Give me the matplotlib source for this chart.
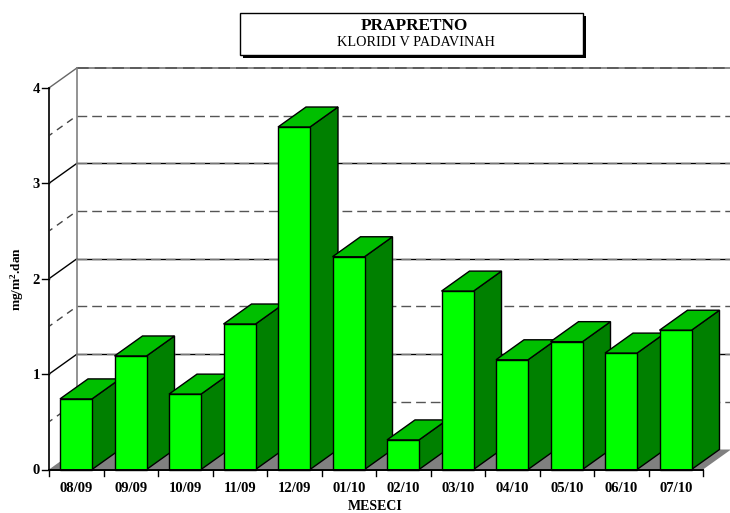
import matplotlib
matplotlib.use('Agg')
import matplotlib.pyplot as plt
from matplotlib.patches import Polygon, Rectangle

plt.rcParams['font.family'] = 'Liberation Serif'
plt.rcParams['mathtext.fontset'] = 'custom'
plt.rcParams['mathtext.bf'] = 'Liberation Serif:bold'

# podaci
meseci = ['08/09', '09/09', '10/09', '11/09', '12/09', '01/10',
          '02/10', '03/10', '04/10', '05/10', '06/10', '07/10']
kloridi = [0.74, 1.19, 0.79, 1.525, 3.59, 2.23, 0.31, 1.87, 1.15, 1.34, 1.22, 1.46]
y_ticks = [0, 1, 2, 3, 4]
y_grid = [0.5, 1, 1.5, 2, 2.5, 3, 3.5, 4]

W, H = 730, 513
x0_px, x_step = 49, 54.5     # front axis start, pixels per category
y0_px, y_step = 469.5, 95.4  # baseline, pixels per unit

fig = plt.figure(figsize=(W / 100, H / 100), dpi=100)
ax = fig.add_axes([0, 0, 1, 1])
ax.set_xlim(-x0_px / x_step, (W - x0_px) / x_step)
ax.set_ylim((y0_px - H) / y_step, y0_px / y_step)
ax.axis('off')

# 3D depth expressed in data units
dx = 28 / x_step
dy = 20 / y_step
n = len(meseci)
bar_w = 32 / x_step
top = max(y_ticks)
x_end = (W - x0_px) / x_step
crtkano = (0, (7, 3.6))

# floor
ax.add_patch(Polygon([(0, 0), (dx, dy), (n + dx, dy), (n, 0)],
                     fc='#808080', ec='none', zorder=1))

# walls and grid
for v in y_grid:
    major = v == int(v) and v != top
    if major:
        ax.plot([0, dx], [v, v + dy], color='black', lw=1, zorder=2)
        ax.plot([dx, x_end], [v + dy, v + dy], color='black', lw=1, zorder=2)
        ax.plot([dx, x_end], [v + dy, v + dy], color='#777777', lw=1, ls=crtkano, zorder=2)
    elif v == top:
        ax.plot([0, dx], [v, v + dy], color='#666666', lw=1, zorder=2)
        ax.plot([dx, x_end], [v + dy, v + dy], color='#777777', lw=1.2, zorder=2)
        ax.plot([dx, x_end], [v + dy, v + dy], color='#555555', lw=1.2, ls=crtkano, zorder=2)
    else:
        ax.plot([0, dx], [v, v + dy], color='#444444', lw=1, ls=(2, (5, 4)), zorder=2)
        ax.plot([dx, x_end], [v + dy, v + dy], color='#555555', lw=1, ls=crtkano, zorder=2)
ax.plot([dx, dx], [dy, top + dy], color='#808080', lw=1.2, zorder=2)

# bars
for i, v in enumerate(kloridi):
    left = i + 11 / x_step
    right = left + bar_w
    z = 3 + i
    ax.add_patch(Polygon([(right, 0), (right + dx, dy), (right + dx, v + dy), (right, v)],
                         fc='#008000', ec='black', lw=1, zorder=z))
    ax.add_patch(Polygon([(left, v), (left + dx, v + dy), (right + dx, v + dy), (right, v)],
                         fc='#00BF00', ec='black', lw=1, zorder=z))
    ax.add_patch(Rectangle((left, 0), bar_w, v, fc='#00FF00', ec='black', lw=1, zorder=z))

# axes
ax.plot([0, 0], [0, top], color='#222222', lw=1.4, zorder=20)
ax.plot([0, n], [0, 0], color='black', lw=1.4, zorder=20)
for v in y_ticks:
    ax.plot([-7 / x_step, 0], [v, v], color='black', lw=1, zorder=20)
    ax.text(-9 / x_step, v - 1.5 / y_step, str(v), ha='right', va='center',
            fontsize=10.5, fontweight='bold')
for i in range(n + 1):
    ax.plot([i, i], [0, -6 / y_step], color='black', lw=1, zorder=20)
for i, m in enumerate(meseci):
    ax.text(i + 0.5, -18.5 / y_step, m, ha='center', va='center',
            fontsize=10.5, fontweight='bold')

ax.text(n / 2 - 0.02, -37.5 / y_step, 'MESECI', ha='center', va='center',
        fontsize=10, fontweight='bold')
ax.text(-31.5 / x_step, 2.0, r'mg/m$\mathbf{^2}$.dan', rotation=90, ha='center', va='center',
        fontsize=9.5, fontweight='bold')

# title box
fig.add_artist(Rectangle((243 / W, 1 - 58 / H), 343 / W, 42 / H, fc='black', ec='black',
                         lw=0, transform=fig.transFigure))
fig.add_artist(Rectangle((240 / W, 1 - 55 / H), 343 / W, 42 / H, fc='white', ec='black',
                         lw=1, transform=fig.transFigure))
fig.text(414 / W, 1 - 26 / H, 'PRAPRETNO', ha='center', va='center',
         fontsize=12.4, fontweight='bold')
fig.text(415.5 / W, 1 - 42 / H, 'KLORIDI V PADAVINAH', ha='center', va='center', fontsize=10.3)

fig.savefig('out.png', dpi=100)
